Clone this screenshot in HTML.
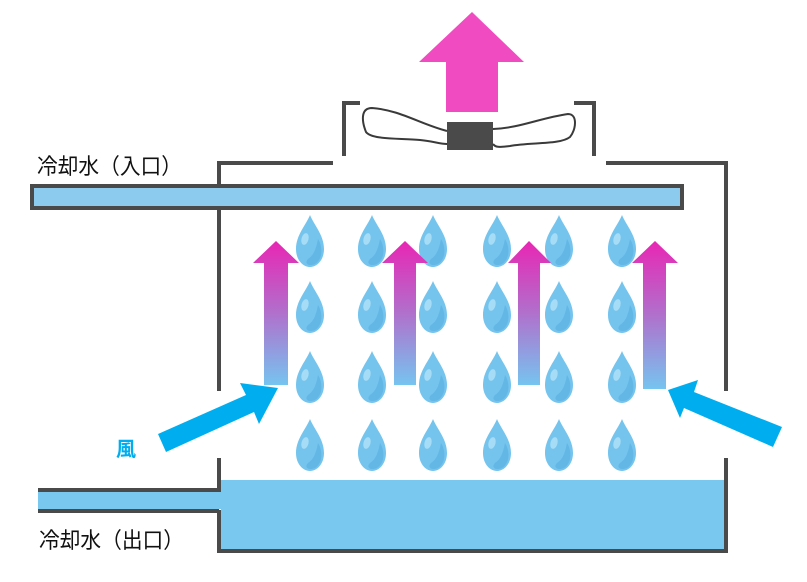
<!DOCTYPE html>
<html><head><meta charset="utf-8"><style>
html,body{margin:0;padding:0;background:#fff;width:807px;height:582px;overflow:hidden}
svg{display:block}
text{font-family:"Liberation Sans","Noto Sans CJK JP",sans-serif}
</style></head><body>
<svg width="807" height="582" viewBox="0 0 807 582" xmlns="http://www.w3.org/2000/svg">
<defs>
<linearGradient id="g" x1="0" y1="0" x2="0" y2="1">
<stop offset="0" stop-color="#e826b4"/><stop offset="0.5" stop-color="#b070cc"/><stop offset="1" stop-color="#76c4f0"/>
</linearGradient>
<g id="drop">
<path d="M0,-26 C4,-16 14,-6 14,8 C14,19 7,26 0,26 C-7,26 -14,19 -14,8 C-14,-6 -4,-16 0,-26Z" fill="#74c4ee"/>
<path d="M8,-2 C13,6 13,18 5,23 C-2,26 -6,22 -2,18 C4,14 6,8 8,-2Z" fill="#58afe0" opacity="0.6"/>
<ellipse cx="-5" cy="-2" rx="3.5" ry="6" fill="#a6dcf6" transform="rotate(15 -5 -2)"/>
</g>
</defs>
<g fill="#4a4a4a">
<rect x="217" y="161" width="116" height="4"/>
<rect x="606" y="161" width="122" height="4"/>
<rect x="217" y="161" width="4" height="230"/>
<rect x="724" y="161" width="4" height="230"/>
<rect x="217" y="458" width="4" height="34"/>
<rect x="217" y="510" width="4" height="43"/>
<rect x="724" y="458" width="4" height="95"/>
<rect x="217" y="549" width="511" height="4"/>
<rect x="38" y="488" width="183" height="4"/>
<rect x="38" y="509" width="181" height="4"/>
<rect x="342" y="101" width="4" height="55"/>
<rect x="342" y="101" width="18" height="4"/>
<rect x="592" y="101" width="4" height="55"/>
<rect x="574" y="101" width="22" height="4"/>
<rect x="447" y="122" width="46" height="28"/>
</g>
<rect x="221" y="480" width="503" height="69" fill="#78c8f0"/>
<rect x="38" y="492" width="185" height="17" fill="#78c8f0"/>
<rect x="32" y="186" width="650" height="22" fill="#8ccbee" stroke="#4a4a4a" stroke-width="4"/>
<path d="M447,131 C420,124 400,110 372,108 C360,108 362,122 366,132 C372,140 400,138 420,140 C432,141 440,144 447,144" fill="none" stroke="#3a3a3a" stroke-width="2"/>
<path d="M493,129 C520,128 540,118 568,114 C578,114 576,130 570,137 C560,145 530,142 510,146 C500,147 496,148 493,144" fill="none" stroke="#3a3a3a" stroke-width="2"/>
<polygon points="472,12 524,62 498,62 498,112 446,112 446,62 419,62" fill="#f14bc2"/>
<g>
<use href="#drop" x="310" y="241"/><use href="#drop" x="372" y="241"/><use href="#drop" x="433" y="241"/><use href="#drop" x="497" y="241"/><use href="#drop" x="559" y="241"/><use href="#drop" x="622" y="241"/>
<use href="#drop" x="310" y="307"/><use href="#drop" x="372" y="307"/><use href="#drop" x="433" y="307"/><use href="#drop" x="497" y="307"/><use href="#drop" x="559" y="307"/><use href="#drop" x="622" y="307"/>
<use href="#drop" x="310" y="377"/><use href="#drop" x="372" y="377"/><use href="#drop" x="433" y="377"/><use href="#drop" x="497" y="377"/><use href="#drop" x="559" y="377"/><use href="#drop" x="622" y="377"/>
<use href="#drop" x="310" y="445"/><use href="#drop" x="372" y="445"/><use href="#drop" x="433" y="445"/><use href="#drop" x="497" y="445"/><use href="#drop" x="559" y="445"/><use href="#drop" x="622" y="445"/>
</g>
<g fill="url(#g)">
<polygon points="276,241 299,263 288,263 288,385 264,385 264,263 253,263"/>
<polygon points="405,241 428,263 416,263 416,385 394,385 394,263 382,263"/>
<polygon points="529,241 551,263 540,263 540,385 518,385 518,263 508,263"/>
<polygon points="655,241 678,263 666,263 666,389 643,389 643,263 632,263"/>
</g>
<polygon points="158,434 246,395 240,383 278,388 259,424 254,412 166,452" fill="#00aeef"/>
<polygon points="782,427 694,392 698,380 668,390 680,418 684,408 773,447" fill="#00aeef"/>
<text x="37" y="174" font-size="22" fill="#111" textLength="145" lengthAdjust="spacingAndGlyphs">冷却水（入口）</text>
<text x="39" y="548" font-size="22" fill="#111" textLength="145" lengthAdjust="spacingAndGlyphs">冷却水（出口）</text>
<text x="116" y="456" font-size="20" font-weight="bold" fill="#00aeef">風</text>
</svg>
</body></html>
